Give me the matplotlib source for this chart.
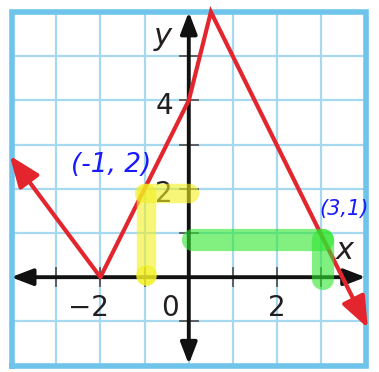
import matplotlib
matplotlib.use("Agg")
import matplotlib.pyplot as plt
from matplotlib.patches import FancyArrowPatch

# ---- data ----
curve_x = [-4.05, -2.0, 0.0, 0.5, 3.0, 4.05]
curve_y = [2.75, 0.0, 4.0, 6.0, 0.95, -1.15]
grid_x = [-4, -3, -2, -1, 0, 1, 2, 3, 4]
grid_y = [-2, -1, 0, 1, 2, 3, 4, 5, 6]
xtick_vals = [-3, -2, -1, 1, 2, 3]
ytick_vals = [-1, 1, 2, 3, 4, 5]
xlabel_vals = [-2, 0, 2]
xlabel_text = ["\u22122", "0", "2"]
ylabel_vals = [2, 4]
ylabel_text = ["2", "4"]
point_a = (-1, 2)
point_b = (3, 1)
label_a = "(-1, 2)"
label_b = "(3,1)"

fig = plt.figure(figsize=(3.79, 3.72), dpi=100)
ax = fig.add_axes([0, 0, 1, 1])
ax.set_xlim(-4.271, 4.303)
ax.set_ylim(-2.145, 6.271)
ax.axis("off")

# grid
for gx in grid_x[1:-1]:
    ax.plot([gx, gx], [grid_y[0], grid_y[-1]], color="#a6d8f0", lw=1.6, zorder=1)
for gy in grid_y[1:-1]:
    ax.plot([grid_x[0], grid_x[-1]], [gy, gy], color="#a6d8f0", lw=1.6, zorder=1)
ax.plot([grid_x[0], grid_x[-1], grid_x[-1], grid_x[0], grid_x[0]],
        [grid_y[0], grid_y[0], grid_y[-1], grid_y[-1], grid_y[0]],
        color="#6ec4ea", lw=4, zorder=2, solid_joinstyle="miter")

# axes with arrows
axis_style = "<|-|>,head_length=1.3,head_width=0.5"
ax.add_patch(FancyArrowPatch((-4.02, 0), (4.0, 0), arrowstyle=axis_style,
                             mutation_scale=10, color="#111111", lw=2.8,
                             shrinkA=0, shrinkB=0, zorder=4))
ax.add_patch(FancyArrowPatch((0, -1.97), (0, 6.0), arrowstyle=axis_style,
                             mutation_scale=10, color="#111111", lw=2.8,
                             shrinkA=0, shrinkB=0, zorder=4))
for t in xtick_vals:
    ax.plot([t, t], [-0.2, 0.2], color="#555555", lw=1.3, zorder=3)
for t in ytick_vals:
    ax.plot([-0.2, 0.2], [t, t], color="#555555", lw=1.3, zorder=3)

# tick labels
for v, s in zip(xlabel_vals, xlabel_text):
    xr = v + 0.2 if v != 0 else -0.22
    ax.text(xr, -0.7, s, ha="right", va="center", fontsize=20,
            color="#231f20", family="DejaVu Sans", zorder=5)
for v, s in zip(ylabel_vals, ylabel_text):
    ax.text(-0.36, v - 0.12, s, ha="right", va="center", fontsize=20,
            color="#231f20", family="DejaVu Sans", zorder=5)
ax.text(-0.58, 5.45, "y", ha="center", va="center", fontsize=22,
        style="italic", color="#231f20", zorder=5)
ax.text(3.53, 0.6, "x", ha="center", va="center", fontsize=22,
        style="italic", color="#231f20", zorder=5)

# red curve
red = "#e3262d"
ax.plot(curve_x[1:-1], curve_y[1:-1], color=red, lw=3, zorder=6,
        solid_joinstyle="miter", solid_capstyle="butt")
arr_style = "-|>,head_length=1.9,head_width=0.75"
ax.add_patch(FancyArrowPatch((curve_x[1], curve_y[1]), (curve_x[0], curve_y[0]),
                             arrowstyle=arr_style, mutation_scale=10, color=red,
                             lw=3, shrinkA=0, shrinkB=0, zorder=6))
ax.add_patch(FancyArrowPatch((curve_x[-2], curve_y[-2]), (curve_x[-1], curve_y[-1]),
                             arrowstyle=arr_style, mutation_scale=10, color=red,
                             lw=3, shrinkA=0, shrinkB=0, zorder=6))

# highlighter strokes
ax.plot([point_a[0] - 0.02, point_a[0] + 1.0], [point_a[1] - 0.1, point_a[1] - 0.1],
        color="#f2f020", alpha=0.6, lw=14, solid_capstyle="round", zorder=7)
ax.plot([point_a[0] + 0.03, point_a[0] + 0.03], [point_a[1] - 0.1, 0.05],
        color="#f2f020", alpha=0.6, lw=14, solid_capstyle="round", zorder=7)
ax.plot([point_a[0] + 0.03], [0.05], "o", ms=14, color="#f2f020", alpha=0.6, zorder=7)
ax.plot([0.1, point_b[0] + 0.03], [point_b[1] - 0.15, point_b[1] - 0.15],
        color="#2ee62e", alpha=0.6, lw=16, solid_capstyle="round", zorder=7)
ax.plot([point_b[0] + 0.03, point_b[0] + 0.03], [point_b[1] - 0.15, -0.05],
        color="#2ee62e", alpha=0.6, lw=16, solid_capstyle="round", zorder=7)

# handwritten labels
ax.text(-1.76, 2.54, label_a, ha="center", va="center", fontsize=19,
        style="italic", color="#1a1aff", zorder=8)
ax.text(2.95, 1.55, label_b, ha="left", va="center", fontsize=15,
        style="italic", color="#1a1aff", zorder=8)

fig.savefig("out.png", dpi=100)
